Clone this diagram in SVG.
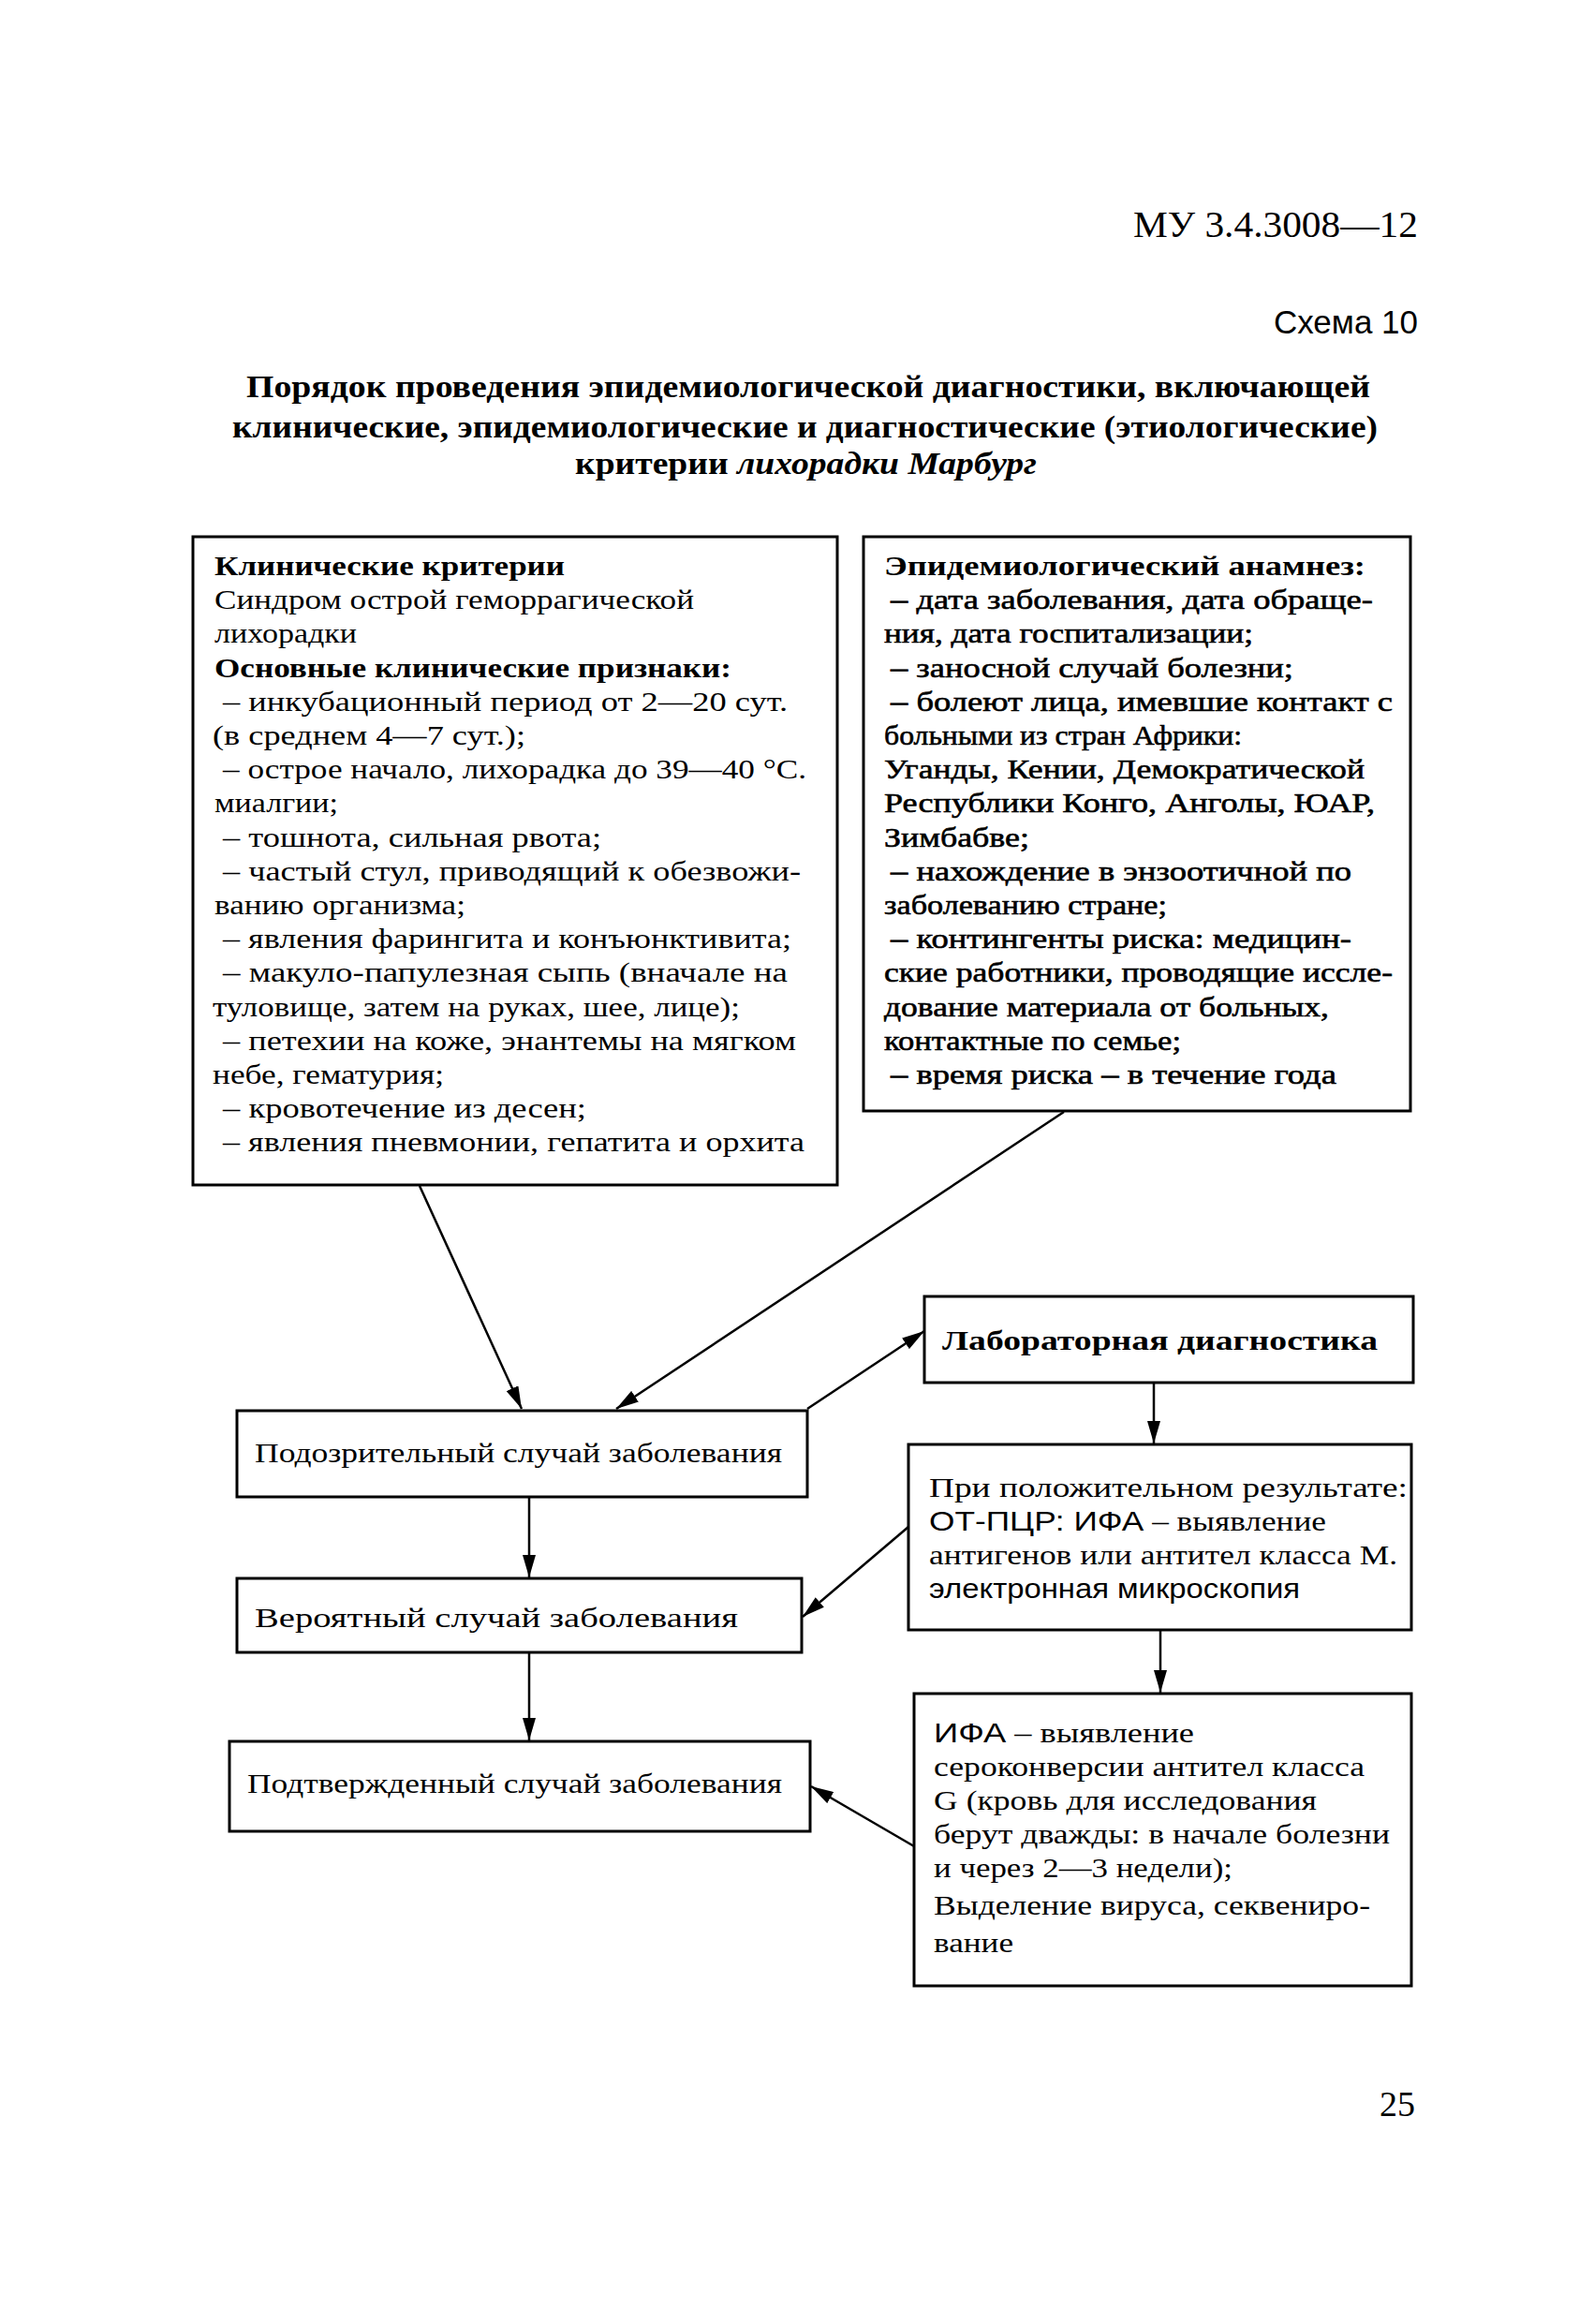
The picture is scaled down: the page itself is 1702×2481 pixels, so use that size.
<svg xmlns="http://www.w3.org/2000/svg" width="1702" height="2481" viewBox="0 0 1702 2481">
<style>
.bg{fill:#fff}
.box{fill:#fff;stroke:#000;stroke-width:3}
.t{font-family:"Liberation Serif","Times New Roman",serif;font-size:30px;fill:#000}
.b{font-weight:bold}
.hv{stroke:#000;stroke-width:0.6}
.sans{font-family:"Liberation Sans",Arial,sans-serif}
.ttl{font-family:"Liberation Serif","Times New Roman",serif;font-size:34px;font-weight:bold;fill:#000}
.con{stroke:#000;stroke-width:2.5;fill:none;marker-end:url(#ah)}
</style>
<defs>
<marker id="ah" markerUnits="userSpaceOnUse" markerWidth="26" markerHeight="14" refX="24" refY="7" orient="auto">
<path d="M0,0 L24,7 L0,14 z" fill="#000"/>
</marker>
</defs>
<rect class="bg" x="0" y="0" width="1702" height="2481"/>

<g id="header">
<text x="1514" y="253" font-family="Liberation Serif, Times New Roman, serif" font-size="41" text-anchor="end" textLength="304" lengthAdjust="spacingAndGlyphs">МУ 3.4.3008—12</text>
<text x="1514" y="356" font-family="Liberation Sans, Arial, sans-serif" font-size="35" text-anchor="end">Схема 10</text>
<text class="ttl" x="263" y="424" textLength="1200" lengthAdjust="spacingAndGlyphs">Порядок проведения  эпидемиологической диагностики, включающей</text>
<text class="ttl" x="248" y="467" textLength="1223" lengthAdjust="spacingAndGlyphs">клинические, эпидемиологические и диагностические (этиологические)</text>
<text class="ttl" x="614" y="506" textLength="493" lengthAdjust="spacingAndGlyphs">критерии <tspan font-style="italic">лихорадки Марбург</tspan></text>
</g>

<g id="clinical">
<rect class="box" x="206" y="573" width="688" height="692"/>
<text class="t b" x="229" y="614" textLength="374" lengthAdjust="spacingAndGlyphs">Клинические критерии</text>
<text class="t" x="229" y="650" textLength="512" lengthAdjust="spacingAndGlyphs">Синдром острой геморрагической</text>
<text class="t" x="229" y="686" textLength="152" lengthAdjust="spacingAndGlyphs">лихорадки</text>
<text class="t b" x="229" y="723" textLength="552" lengthAdjust="spacingAndGlyphs">Основные клинические признаки:</text>
<text class="t" x="238" y="759" textLength="603" lengthAdjust="spacingAndGlyphs">– инкубационный период от 2—20 сут.</text>
<text class="t" x="227" y="795" textLength="334" lengthAdjust="spacingAndGlyphs">(в среднем 4—7 сут.);</text>
<text class="t" x="238" y="831" textLength="623" lengthAdjust="spacingAndGlyphs">– острое начало, лихорадка до 39—40 °С.</text>
<text class="t" x="229" y="867" textLength="132" lengthAdjust="spacingAndGlyphs">миалгии;</text>
<text class="t" x="238" y="904" textLength="404" lengthAdjust="spacingAndGlyphs">– тошнота, сильная рвота;</text>
<text class="t" x="238" y="940" textLength="617" lengthAdjust="spacingAndGlyphs">– частый стул, приводящий к обезвожи-</text>
<text class="t" x="229" y="976" textLength="268" lengthAdjust="spacingAndGlyphs">ванию организма;</text>
<text class="t" x="238" y="1012" textLength="607" lengthAdjust="spacingAndGlyphs">– явления фарингита и конъюнктивита;</text>
<text class="t" x="238" y="1048" textLength="603" lengthAdjust="spacingAndGlyphs">– макуло-папулезная сыпь  (вначале на</text>
<text class="t" x="227" y="1085" textLength="563" lengthAdjust="spacingAndGlyphs">туловище, затем на руках, шее, лице);</text>
<text class="t" x="238" y="1121" textLength="612" lengthAdjust="spacingAndGlyphs">– петехии на коже, энантемы на мягком</text>
<text class="t" x="227" y="1157" textLength="247" lengthAdjust="spacingAndGlyphs">небе, гематурия;</text>
<text class="t" x="238" y="1193" textLength="388" lengthAdjust="spacingAndGlyphs">– кровотечение из десен;</text>
<text class="t" x="238" y="1229" textLength="621" lengthAdjust="spacingAndGlyphs">– явления пневмонии, гепатита и орхита</text>
</g>

<g id="epidemiological">
<rect class="box" x="922" y="573" width="584" height="613"/>
<text class="t b" x="944" y="614" textLength="514" lengthAdjust="spacingAndGlyphs">Эпидемиологический анамнез:</text>
<text class="t hv" x="951" y="650" textLength="515" lengthAdjust="spacingAndGlyphs">– дата заболевания, дата обраще-</text>
<text class="t hv" x="944" y="686" textLength="394" lengthAdjust="spacingAndGlyphs">ния, дата госпитализации;</text>
<text class="t hv" x="951" y="723" textLength="430" lengthAdjust="spacingAndGlyphs">– заносной случай болезни;</text>
<text class="t hv" x="951" y="759" textLength="536" lengthAdjust="spacingAndGlyphs">– болеют лица, имевшие контакт с</text>
<text class="t hv" x="944" y="795" textLength="382" lengthAdjust="spacingAndGlyphs">больными из стран Африки:</text>
<text class="t hv" x="944" y="831" textLength="513" lengthAdjust="spacingAndGlyphs">Уганды, Кении, Демократической</text>
<text class="t hv" x="944" y="867" textLength="524" lengthAdjust="spacingAndGlyphs">Республики Конго, Анголы, ЮАР,</text>
<text class="t hv" x="944" y="904" textLength="155" lengthAdjust="spacingAndGlyphs">Зимбабве;</text>
<text class="t hv" x="951" y="940" textLength="492" lengthAdjust="spacingAndGlyphs">– нахождение в энзоотичной по</text>
<text class="t hv" x="944" y="976" textLength="302" lengthAdjust="spacingAndGlyphs">заболеванию стране;</text>
<text class="t hv" x="951" y="1012" textLength="492" lengthAdjust="spacingAndGlyphs">– контингенты риска: медицин-</text>
<text class="t hv" x="944" y="1048" textLength="543" lengthAdjust="spacingAndGlyphs">ские работники, проводящие иссле-</text>
<text class="t hv" x="944" y="1085" textLength="475" lengthAdjust="spacingAndGlyphs">дование материала от больных,</text>
<text class="t hv" x="944" y="1121" textLength="317" lengthAdjust="spacingAndGlyphs">контактные по семье;</text>
<text class="t hv" x="951" y="1157" textLength="476" lengthAdjust="spacingAndGlyphs">– время риска – в течение года</text>
</g>

<g id="lab">
<rect class="box" x="987" y="1384" width="522" height="92"/>
<text class="t b" x="1006" y="1441" font-size="32" textLength="465" lengthAdjust="spacingAndGlyphs">Лабораторная диагностика</text>
</g>

<g id="suspect">
<rect class="box" x="253" y="1506" width="609" height="92"/>
<text class="t" x="272" y="1561" textLength="563" lengthAdjust="spacingAndGlyphs">Подозрительный случай заболевания</text>
</g>

<g id="positive">
<rect class="box" x="970" y="1542" width="537" height="198"/>
<text class="t" x="992" y="1598" textLength="511" lengthAdjust="spacingAndGlyphs">При положительном результате:</text>
<text class="t" x="992" y="1634" textLength="424" lengthAdjust="spacingAndGlyphs"><tspan class="sans">ОТ-ПЦР: ИФА</tspan> – выявление</text>
<text class="t" x="992" y="1670" textLength="500" lengthAdjust="spacingAndGlyphs">антигенов или антител класса М.</text>
<text class="t sans" x="992" y="1706" font-size="28" textLength="396" lengthAdjust="spacingAndGlyphs">электронная микроскопия</text>
</g>

<g id="probable">
<rect class="box" x="253" y="1685" width="603" height="79"/>
<text class="t" x="272" y="1737" textLength="516" lengthAdjust="spacingAndGlyphs">Вероятный случай заболевания</text>
</g>

<g id="confirmed">
<rect class="box" x="245" y="1859" width="620" height="96"/>
<text class="t" x="264" y="1914" textLength="571" lengthAdjust="spacingAndGlyphs">Подтвержденный случай заболевания</text>
</g>

<g id="ifa">
<rect class="box" x="976" y="1808" width="531" height="312"/>
<text class="t" x="997" y="1860" textLength="278" lengthAdjust="spacingAndGlyphs"><tspan class="sans">ИФА</tspan> – выявление</text>
<text class="t" x="997" y="1896" textLength="460" lengthAdjust="spacingAndGlyphs">сероконверсии антител класса</text>
<text class="t" x="997" y="1932" textLength="409" lengthAdjust="spacingAndGlyphs">G (кровь для исследования</text>
<text class="t" x="997" y="1968" textLength="487" lengthAdjust="spacingAndGlyphs">берут дважды: в начале болезни</text>
<text class="t" x="997" y="2004" textLength="319" lengthAdjust="spacingAndGlyphs">и через 2—3 недели);</text>
<text class="t" x="997" y="2044" textLength="466" lengthAdjust="spacingAndGlyphs">Выделение вируса, секвениро-</text>
<text class="t" x="997" y="2084" textLength="85" lengthAdjust="spacingAndGlyphs">вание</text>
</g>

<g id="connectors">
<line class="con" x1="448" y1="1266" x2="557" y2="1504"/>
<line class="con" x1="1136" y1="1187" x2="658" y2="1504"/>
<line class="con" x1="862" y1="1504" x2="987" y2="1421"/>
<line class="con" x1="1232" y1="1477" x2="1232" y2="1541"/>
<line class="con" x1="565" y1="1599" x2="565" y2="1684"/>
<line class="con" x1="970" y1="1630" x2="857" y2="1726"/>
<line class="con" x1="1239" y1="1741" x2="1239" y2="1807"/>
<line class="con" x1="565" y1="1765" x2="565" y2="1858"/>
<line class="con" x1="976" y1="1971" x2="866" y2="1907"/>
</g>

<g id="page">
<text x="1511" y="2259" font-family="Liberation Serif, Times New Roman, serif" font-size="38" text-anchor="end">25</text>
</g>
</svg>
